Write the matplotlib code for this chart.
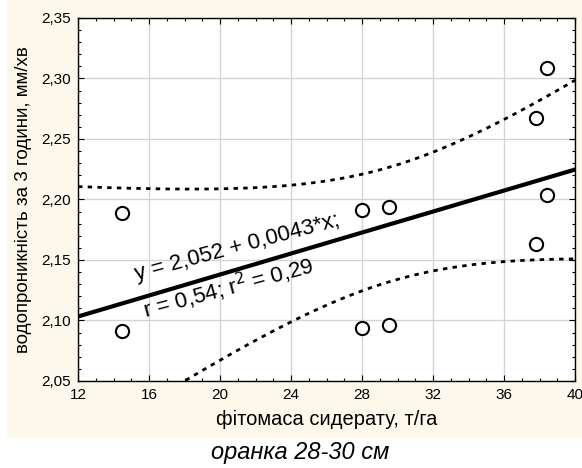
import numpy as np
import matplotlib.pyplot as plt
from matplotlib.patches import Rectangle
from matplotlib.ticker import MultipleLocator, FuncFormatter

plt.rcParams['font.family'] = ['Liberation Sans', 'DejaVu Sans']

# fitomasa (t/ha) vs water permeability (mm/min)
biomass = [14.5, 14.5, 28.0, 28.0, 29.5, 29.5, 37.8, 37.8, 38.4, 38.4]
permeab = [2.189, 2.091, 2.191, 2.094, 2.194, 2.096, 2.267, 2.163, 2.309, 2.204]

x = np.array(biomass)
y = np.array(permeab)
n = len(x)
b, a = np.polyfit(x, y, 1)
xs = np.linspace(12, 40, 200)
fit = a + b * xs
resid = y - (a + b * x)
s = np.sqrt(np.sum(resid ** 2) / (n - 2))
sxx = np.sum((x - x.mean()) ** 2)
t = 2.306  # t(0.975, 8)
ci = t * s * np.sqrt(1 / n + (xs - x.mean()) ** 2 / sxx)

fig = plt.figure(figsize=(5.82, 4.68), dpi=100)
fig.patch.set_facecolor('white')
fig.patches.append(Rectangle((7 / 582, 30 / 468), 1, 1, transform=fig.transFigure,
                             facecolor='#fcf8ec', edgecolor='none', zorder=-10))

ax = fig.add_axes([78 / 582, (468 - 381) / 468, 497 / 582, 363 / 468])
ax.set_facecolor('white')

ax.plot(xs, fit, color='black', lw=3, zorder=3)
ax.plot(xs, fit + ci, color='black', lw=2.0, linestyle=(0, (1.6, 1.9)), zorder=3)
ax.plot(xs, fit - ci, color='black', lw=2.0, linestyle=(0, (1.6, 1.9)), zorder=3)
ax.plot(x, y, 'o', mfc='white', mec='black', mew=1.5, ms=9.5, zorder=4, clip_on=False)

ax.set_xlim(12, 40)
ax.set_ylim(2.05, 2.35)
ax.xaxis.set_major_locator(MultipleLocator(4))
ax.xaxis.set_minor_locator(MultipleLocator(1))
ax.yaxis.set_major_locator(MultipleLocator(0.05))
ax.yaxis.set_minor_locator(MultipleLocator(0.01))
ax.yaxis.set_major_formatter(FuncFormatter(lambda v, p: f'{v:.2f}'.replace('.', ',')))
ax.tick_params(which='both', direction='in', top=True, right=True, labelsize=11)
ax.tick_params(which='major', length=4, width=0.8, pad=5)
ax.tick_params(which='minor', length=2.5, width=0.8)
ax.grid(True, which='major', color='#d4d4d4', lw=1)
ax.set_axisbelow(True)
for sp in ax.spines.values():
    sp.set_linewidth(1)

ax.set_xlabel('фітомаса сидерату, т/га', fontsize=14.5, labelpad=6)
ax.set_ylabel('водопроникність за 3 години, мм/хв', fontsize=13.5, labelpad=7)

ax.text(15.3, 2.133, 'y = 2,052 + 0,0043*x;', rotation=15, fontsize=16,
        ha='left', va='baseline', rotation_mode='anchor', zorder=5)
ax.text(15.8, 2.102, 'r = 0,54; r$^2$ = 0,29', rotation=15, fontsize=16,
        ha='left', va='baseline', rotation_mode='anchor', zorder=5)

fig.text(300 / 582, 1 - 452 / 468, 'оранка 28-30 см', fontsize=17, style='italic',
         ha='center', va='center')

fig.savefig('out.png', dpi=100)
